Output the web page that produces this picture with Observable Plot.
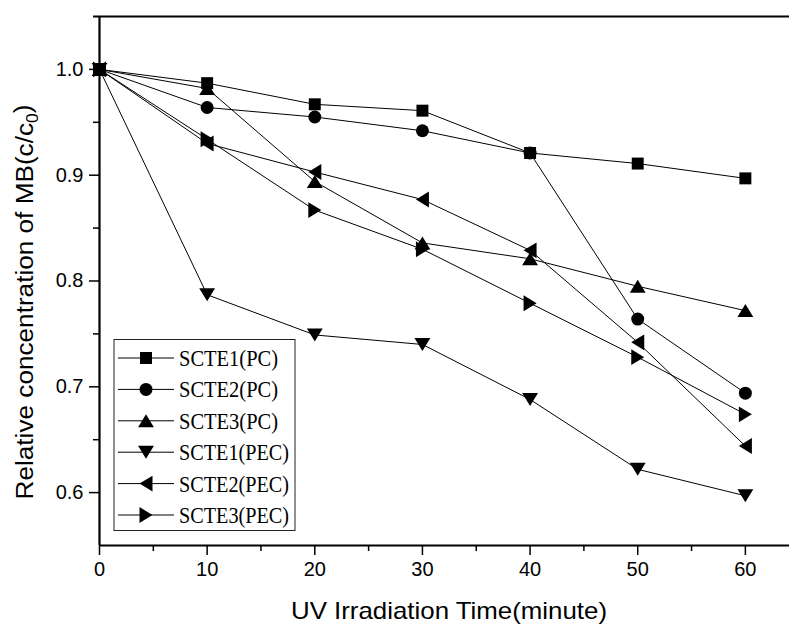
<!DOCTYPE html>
<html>
<head>
<meta charset="utf-8">
<script src="https://cdn.jsdelivr.net/npm/d3@7"></script>
<script src="https://cdn.jsdelivr.net/npm/@observablehq/plot@0.6"></script>
<style>
  html, body { margin: 0; padding: 0; background: #fff; }
  #chart { position: relative; width: 789px; height: 624px; }
</style>
</head>
<body>
<div id="chart"></div>
<script>
// ---- data ----
const times = [0, 10, 20, 30, 40, 50, 60];
const seriesNames = ["SCTE1(PC)", "SCTE2(PC)", "SCTE3(PC)", "SCTE1(PEC)", "SCTE2(PEC)", "SCTE3(PEC)"];
const scte1PC  = [1.000, 0.987, 0.967, 0.961, 0.921, 0.911, 0.897];
const scte2PC  = [1.000, 0.964, 0.955, 0.942, 0.921, 0.764, 0.694];
const scte3PC  = [1.000, 0.982, 0.894, 0.836, 0.821, 0.795, 0.772];
const scte1PEC = [1.000, 0.787, 0.749, 0.740, 0.688, 0.622, 0.597];
const scte2PEC = [1.000, 0.930, 0.903, 0.877, 0.829, 0.742, 0.644];
const scte3PEC = [1.000, 0.934, 0.867, 0.830, 0.779, 0.728, 0.674];
const xTicks = [0, 10, 20, 30, 40, 50, 60];
const xMinorTicks = [5, 15, 25, 35, 45, 55];
const yTicks = [0.6, 0.7, 0.8, 0.9, 1.0];
const yMinorTicks = [0.65, 0.75, 0.85, 0.95];
const xLabel = "UV Irradiation Time(minute)";
const yLabelMain = "Relative concentration of MB(c/c";
const yLabelSub = "0";
const yLabelEnd = ")";

// ---- symbols ----
function rOf(size) { return Math.sqrt(size / Math.PI); }
const symSquare = { draw(ctx, size) { const s = rOf(size) * 0.92; ctx.moveTo(-s, -s); ctx.lineTo(s, -s); ctx.lineTo(s, s); ctx.lineTo(-s, s); ctx.closePath(); } };
const symCircle = { draw(ctx, size) { const r = rOf(size); ctx.moveTo(r, 0); ctx.arc(0, 0, r, 0, 2 * Math.PI); ctx.closePath(); } };
function tri(dir) {
  return { draw(ctx, size) {
    const r = rOf(size), hw = r * 1.22, hh = r * 1.0;
    let pts;
    if (dir === "up") pts = [[0, -hh], [hw, hh], [-hw, hh]];
    else if (dir === "down") pts = [[0, hh], [hw, -hh], [-hw, -hh]];
    else if (dir === "left") pts = [[-hh, 0], [hh, -hw], [hh, hw]];
    else pts = [[hh, 0], [-hh, -hw], [-hh, hw]];
    ctx.moveTo(pts[0][0], pts[0][1]); ctx.lineTo(pts[1][0], pts[1][1]); ctx.lineTo(pts[2][0], pts[2][1]); ctx.closePath();
  } };
}
const seriesValues = [scte1PC, scte2PC, scte3PC, scte1PEC, scte2PEC, scte3PEC];
const seriesSymbols = [symSquare, symCircle, tri("up"), tri("down"), tri("left"), tri("right")];
const dotR = 6.5;

const rows = [];
seriesNames.forEach((name, i) => times.forEach((t, j) => rows.push({ series: name, t, v: seriesValues[i][j] })));

const X_MAX = 64.1, Y_MIN = 0.55, Y_MAX = 1.05;

const marks = [
  Plot.axisX({ ticks: xTicks, tickSize: 10, tickPadding: 6, tickFormat: d => String(d), label: null, strokeWidth: 1.5, fontSize: 20 }),
  Plot.axisX({ ticks: xMinorTicks, tickSize: 6, tickFormat: () => "", label: null, strokeWidth: 1.5 }),
  Plot.axisY({ ticks: yTicks, tickSize: 10, tickPadding: 6, tickFormat: d3.format(".1f"), label: null, strokeWidth: 1.5, fontSize: 20 }),
  Plot.axisY({ ticks: yMinorTicks, tickSize: 6, tickFormat: () => "", label: null, strokeWidth: 1.5 }),
  Plot.ruleX([0], { y1: Y_MIN, y2: Y_MAX, stroke: "black", strokeWidth: 2.2 }),
  Plot.ruleY([Y_MIN], { x1: 0, x2: X_MAX, stroke: "black", strokeWidth: 2.2 }),
  Plot.ruleY([Y_MAX], { x1: -0.55, x2: X_MAX, stroke: "black", strokeWidth: 2.2 }),
  Plot.line(rows, { x: "t", y: "v", z: "series", stroke: "black", strokeWidth: 1 })
];
seriesNames.forEach((name, i) => {
  marks.push(Plot.dot(rows.filter(d => d.series === name), { x: "t", y: "v", symbol: seriesSymbols[i], r: dotR, fill: "black", stroke: "none" }));
});

const plot = Plot.plot({
  width: 789, height: 624,
  marginLeft: 99, marginRight: 0, marginTop: 16, marginBottom: 79,
  x: { domain: [0, X_MAX] },
  y: { domain: [Y_MIN, Y_MAX] },
  style: { fontFamily: "'Liberation Sans', Arial, sans-serif", fontSize: "20px", color: "black", background: "white", overflow: "visible" },
  marks
});
document.getElementById("chart").appendChild(plot);

// ---- titles & legend (added into the same svg) ----
const svg = d3.select(plot);
svg.append("text")
  .attr("x", 449).attr("y", 619)
  .attr("text-anchor", "middle")
  .attr("font-family", "'Liberation Sans', Arial, sans-serif")
  .attr("font-size", 24)
  .attr("textLength", 316).attr("lengthAdjust", "spacingAndGlyphs")
  .attr("fill", "black")
  .text(xLabel);

const yt = svg.append("text")
  .attr("transform", "translate(33,302) rotate(-90)")
  .attr("text-anchor", "middle")
  .attr("font-family", "'Liberation Sans', Arial, sans-serif")
  .attr("font-size", 24)
  .attr("fill", "black");
yt.append("tspan").text(yLabelMain);
yt.append("tspan").attr("dy", "0.3em").attr("font-size", 16).text(yLabelSub);
yt.append("tspan").attr("dy", "-0.3em").text(yLabelEnd);
// stretch along its reading direction to the reference length
try {
  const len = yt.node().getComputedTextLength();
  if (len > 100 && len < 800) {
    const s = 395 / len;
    yt.attr("transform", `translate(33,302) rotate(-90) scale(${s},1)`);
  }
} catch (e) {}

const lg = svg.append("g");
const lgX = 114, lgY = 339.5, lgW = 181, lgH = 191, rowY0 = 358, rowStep = 31.4;
lg.append("rect").attr("x", lgX).attr("y", lgY).attr("width", lgW).attr("height", lgH)
  .attr("fill", "white").attr("stroke", "#222").attr("stroke-width", 1);
seriesNames.forEach((name, i) => {
  const yy = rowY0 + i * rowStep;
  lg.append("line").attr("x1", 118).attr("x2", 174).attr("y1", yy).attr("y2", yy).attr("stroke", "black").attr("stroke-width", 1);
  lg.append("path").attr("transform", `translate(146,${yy})`)
    .attr("d", d3.symbol(seriesSymbols[i], Math.PI * dotR * dotR)()).attr("fill", "black");
  lg.append("text").attr("x", 179).attr("y", yy + 8)
    .attr("text-anchor", "start")
    .attr("font-family", "'Liberation Serif', 'Times New Roman', serif")
    .attr("font-size", 23).attr("fill", "black")
    .attr("textLength", name.includes("PEC") ? 110 : 99).attr("lengthAdjust", "spacingAndGlyphs")
    .text(name);
});
</script>
</body>
</html>
